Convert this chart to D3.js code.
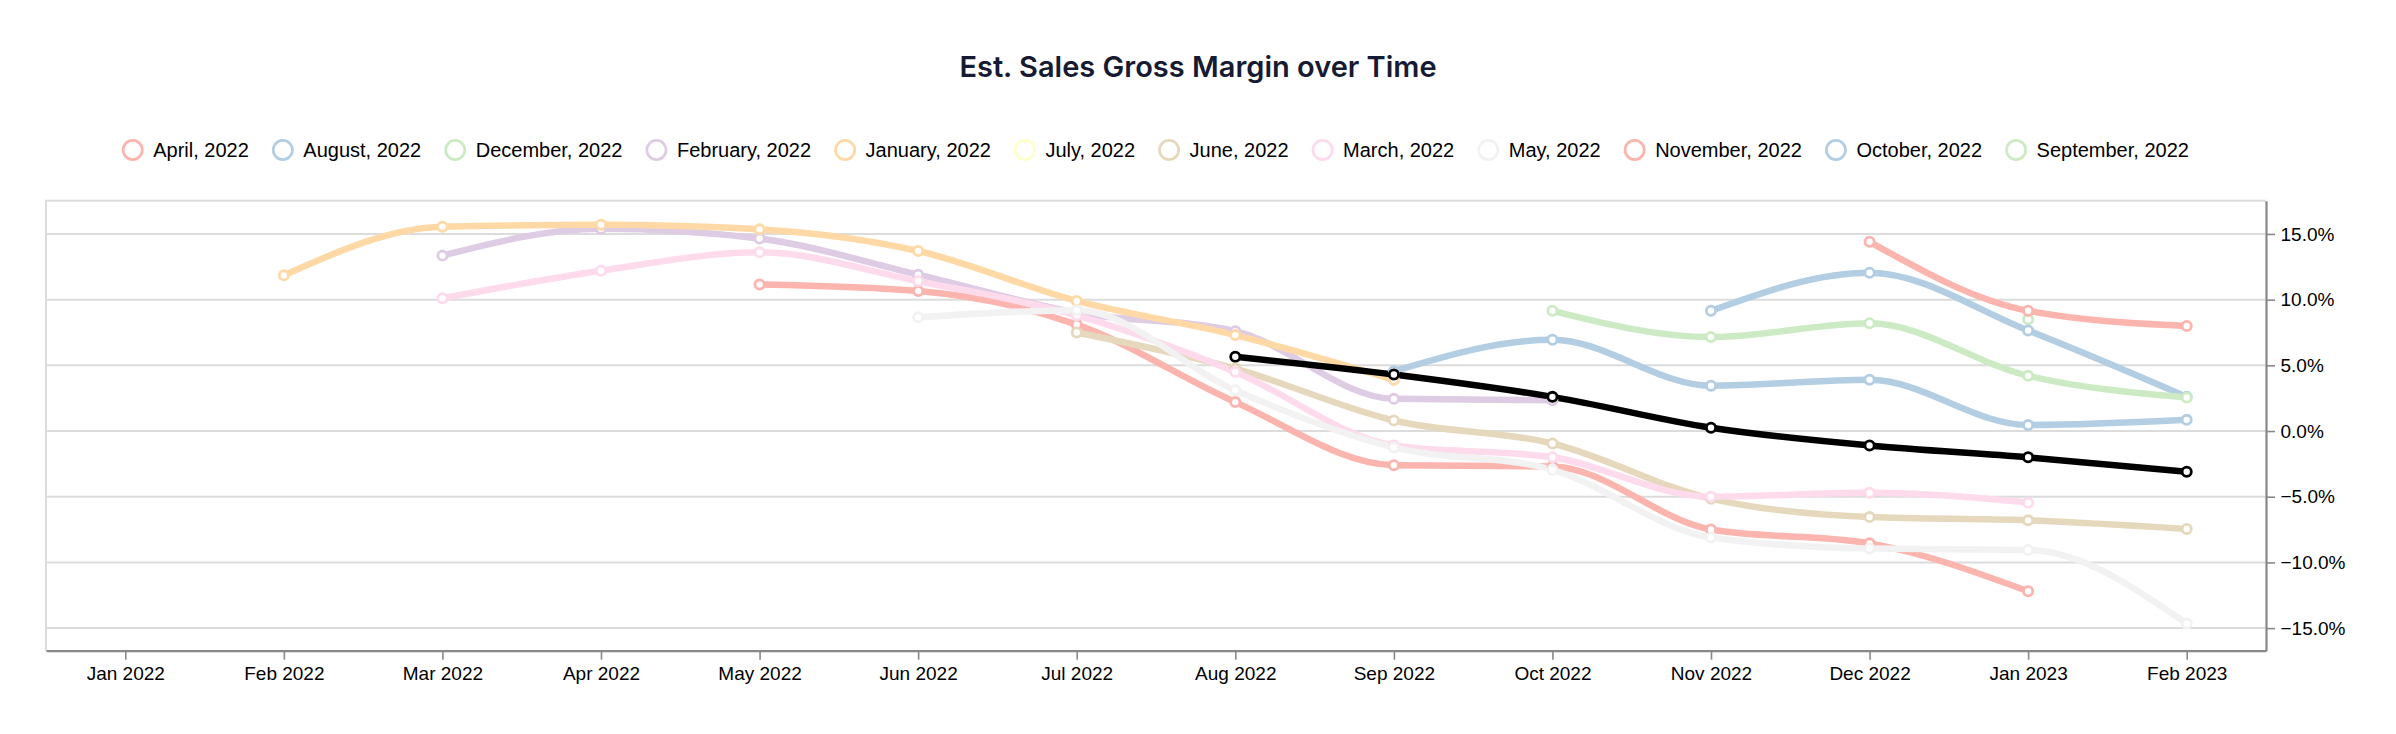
<!DOCTYPE html>
<html>
<head>
<meta charset="utf-8">
<script src="https://cdn.jsdelivr.net/npm/d3@7"></script>
<style>
  body { margin: 0; background: #fff; }
  svg { display: block; }
</style>
</head>
<body>
<svg></svg>
<script>
const width = 2396;
const height = 734;
const margin = { top: 200.7, right: 130, bottom: 83.3, left: 46 };

// x categories
const months = ["Jan 2022", "Feb 2022", "Mar 2022", "Apr 2022", "May 2022", "Jun 2022", "Jul 2022",
  "Aug 2022", "Sep 2022", "Oct 2022", "Nov 2022", "Dec 2022", "Jan 2023", "Feb 2023"];

const yTicks = [-0.15, -0.10, -0.05, 0, 0.05, 0.10, 0.15];

// legend names (cohorts), in legend order
const seriesNames = ["April, 2022", "August, 2022", "December, 2022", "February, 2022", "January, 2022",
  "July, 2022", "June, 2022", "March, 2022", "May, 2022", "November, 2022", "October, 2022", "September, 2022"];

// gross margin in %, one value per month (null = no data)
const apr2022 = [null, null, null, null, 11.15, 10.65, 8.1, 2.2, -2.6, -2.7, -7.5, -8.55, -12.2, null];
const aug2022 = [null, null, null, null, null, null, null, null, 4.55, 6.95, 3.45, 3.9, 0.45, 0.85];
const dec2022 = [null, null, null, null, null, null, null, null, null, null, null, null, 8.5, null];
const feb2022 = [null, null, 13.35, 15.4, 14.65, 11.9, 9.0, 7.6, 2.45, 2.35, null, null, null, null];
const jan2022 = [null, 11.85, 15.55, 15.7, 15.35, 13.7, 9.9, 7.3, 3.9, null, null, null, null, null];
const jul2022 = [null, null, null, null, null, null, null, 5.65, 4.3, 2.6, 0.25, -1.1, -2.0, -3.1];
const jun2022 = [null, null, null, null, null, null, 7.5, 4.75, 0.8, -0.95, -5.15, -6.55, -6.8, -7.45];
const mar2022 = [null, null, 10.1, 12.2, 13.6, 11.4, 8.8, 4.5, -1.1, -2.0, -5.0, -4.7, -5.45, null];
const may2022 = [null, null, null, null, null, 8.65, 9.2, 3.1, -1.25, -2.95, -8.1, -8.95, -9.05, -14.65];
const nov2022 = [null, null, null, null, null, null, null, null, null, null, null, 14.4, 9.15, 8.0];
const oct2022 = [null, null, null, null, null, null, null, null, null, null, 9.15, 12.05, 7.65, 2.6];
const sep2022 = [null, null, null, null, null, null, null, null, null, 9.15, 7.15, 8.2, 4.2, 2.55];

const seriesValues = [apr2022, aug2022, dec2022, feb2022, jan2022, jul2022, jun2022, mar2022, may2022, nov2022, oct2022, sep2022];
const highlighted = "July, 2022";

const series = seriesNames.map((name, i) => ({
  name,
  points: seriesValues[i]
    .map((v, j) => ({ month: months[j], value: v === null ? null : v / 100 }))
    .filter(p => p.value !== null)
}));

const color = d3.scaleOrdinal().domain(seriesNames).range(d3.schemePastel1);
const lineColor = d => d.name === highlighted ? "#000" : color(d.name);

const svg = d3.select("svg").attr("width", width).attr("height", height);

const x = d3.scalePoint()
  .domain(months)
  .range([margin.left, width - margin.right])
  .padding(0.5);

const y = d3.scaleLinear()
  .domain([-0.1672, 0.1753])
  .range([height - margin.bottom, margin.top]);

// title
svg.append("text")
  .attr("x", width / 2)
  .attr("y", 77)
  .attr("text-anchor", "middle")
  .attr("font-family", "Inter, 'Noto Sans', sans-serif")
  .attr("font-weight", 600)
  .attr("font-size", 29)
  .attr("fill", "#161b33")
  .text("Est. Sales Gross Margin over Time");

// legend
const legend = svg.append("g").attr("font-family", "'Liberation Sans', Arial, sans-serif").attr("font-size", 20);
let cx = 0;
seriesNames.forEach(name => {
  const item = legend.append("g");
  item.append("circle").attr("cx", cx).attr("cy", 150).attr("r", 9.6)
    .attr("fill", "#fff").attr("stroke", color(name)).attr("stroke-width", 2.7);
  const t = item.append("text").attr("x", cx + 20.5).attr("y", 157.3).attr("fill", "#000").text(name);
  cx += 20.5 + t.node().getComputedTextLength() + 34;
});
const legendBox = legend.node().getBBox();
const plotCenter = (margin.left + width - margin.right) / 2;
legend.attr("transform", `translate(${plotCenter - (legendBox.x + legendBox.width / 2)},0)`);

// grid lines
svg.append("g")
  .selectAll("line")
  .data(yTicks)
  .join("line")
  .attr("x1", margin.left)
  .attr("x2", width - margin.right)
  .attr("y1", d => y(d))
  .attr("y2", d => y(d))
  .attr("stroke", "#dcdcdc")
  .attr("stroke-width", 2);

// top and left frame
svg.append("path")
  .attr("d", `M${margin.left},${height - margin.bottom}V${margin.top}H${width - margin.right}`)
  .attr("fill", "none")
  .attr("stroke", "#dcdcdc")
  .attr("stroke-width", 2);

const xAxis = d3.axisBottom(x).tickSize(9).tickPadding(7).tickSizeOuter(0);
const yAxis = d3.axisRight(y).tickValues(yTicks).tickFormat(d3.format(".1%")).tickSize(9).tickPadding(5.5).tickSizeOuter(0);

const gx = svg.append("g")
  .attr("transform", `translate(0,${height - margin.bottom})`)
  .call(xAxis);

const gy = svg.append("g")
  .attr("transform", `translate(${width - margin.right},0)`)
  .call(yAxis);

[gx, gy].forEach(g => {
  g.select(".domain").attr("stroke", "#888").attr("stroke-width", 2.2);
  g.selectAll(".tick line").attr("stroke", "#888").attr("stroke-width", 1.6);
  g.selectAll(".tick text")
    .attr("fill", "#000")
    .attr("font-family", "'Liberation Sans', Arial, sans-serif")
    .attr("font-size", 19);
});

const line = d3.line()
  .x(d => x(d.month))
  .y(d => y(d.value))
  .curve(d3.curveMonotoneX);

// lines, highlighted one raised above the others
const lineOrder = series.filter(s => s.name !== highlighted).concat(series.filter(s => s.name === highlighted));
svg.append("g")
  .selectAll("path")
  .data(lineOrder)
  .join("path")
  .attr("d", d => line(d.points))
  .attr("fill", "none")
  .attr("stroke", lineColor)
  .attr("stroke-width", 6.5)
  .attr("stroke-linecap", "round")
  .attr("stroke-linejoin", "round");

// points
svg.append("g")
  .selectAll("g")
  .data(series)
  .join("g")
  .attr("stroke", lineColor)
  .selectAll("circle")
  .data(d => d.points)
  .join("circle")
  .attr("cx", d => x(d.month))
  .attr("cy", d => y(d.value))
  .attr("r", 4.6)
  .attr("fill", "#fff")
  .attr("stroke-width", 2.8);
</script>
</body>
</html>
